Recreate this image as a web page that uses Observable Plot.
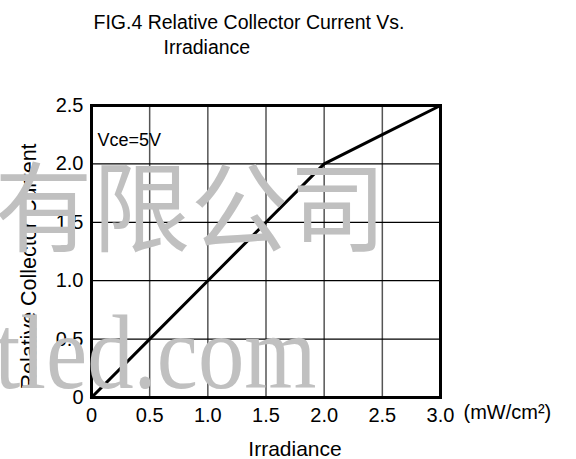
<!DOCTYPE html>
<html>
<head>
<meta charset="utf-8">
<script src="https://cdn.jsdelivr.net/npm/d3@7"></script>
<script src="https://cdn.jsdelivr.net/npm/@observablehq/plot@0.6"></script>
<style>
  html, body { margin: 0; padding: 0; background: #fff; }
</style>
</head>
<body>
<div id="chart"></div>
<script>
// Data
const irradiance = [0, 0.5, 1.0, 1.5, 2.0, 2.5, 3.0];
const relCurrent = [0, 0.5, 1.0, 1.5, 2.0, 2.25, 2.5];

const xTicks = [0, 0.5, 1.0, 1.5, 2.0, 2.5, 3.0];
const xTickLabels = ["0", "0.5", "1.0", "1.5", "2.0", "2.5", "3.0"];
const yTicks = [0, 0.5, 1.0, 1.5, 2.0, 2.5];
const yTickLabels = ["0", "0.5", "1.0", "1.5", "2.0", "2.5"];

const titleLine1 = ["FIG.4 Relative Collector Current Vs."];
const titleLine2 = ["Irradiance"];
const xTitle = ["Irradiance"];
const xUnit = ["(mW/cm\u00B2)"];
const yTitle = ["Relative Collector Current"];
const condition = ["Vce=5V"];
const watermarkCJK = ["有限公司"];
const watermarkLatin = ["tled.com"];

const data = irradiance.map((x, i) => ({x, y: relCurrent[i]}));

const font = "Liberation Sans, Arial, Helvetica, sans-serif";

const chart = Plot.plot({
  width: 576,
  height: 459,
  marginLeft: 91,
  marginRight: 136,
  marginTop: 105,
  marginBottom: 62,
  style: {fontFamily: font, fontSize: "20px", color: "#000", background: "#fff"},
  x: {domain: [0, 3], axis: null},
  y: {domain: [0, 2.5], axis: null},
  marks: [
    Plot.ruleX(xTicks, {stroke: "#555", strokeWidth: 1.5}),
    Plot.ruleY(yTicks, {stroke: "#000", strokeWidth: 1.3}),
    Plot.line(data, {x: "x", y: "y", stroke: "#000", strokeWidth: 3}),
    Plot.frame({stroke: "#000", strokeWidth: 3}),
    Plot.axisX(xTicks, {label: null, tickSize: 0, tickPadding: 10, fontSize: 20, tickFormat: (d, i) => xTickLabels[i], fill: "#000"}),
    Plot.axisY(yTicks, {label: null, tickSize: 0, tickPadding: 8, fontSize: 20, tickFormat: (d, i) => yTickLabels[i], fill: "#000"}),
    Plot.text(titleLine1, {text: d => d, frameAnchor: "top-left", textAnchor: "start", lineAnchor: "bottom", dx: 2, dy: -77, fontSize: 19.5, fill: "#000"}),
    Plot.text(titleLine2, {text: d => d, frameAnchor: "top-left", textAnchor: "start", lineAnchor: "bottom", dx: 72, dy: -52, fontSize: 19.5, fill: "#000"}),
    Plot.text(condition, {text: d => d, frameAnchor: "top-left", textAnchor: "start", lineAnchor: "bottom", dx: 6, dy: 40, fontSize: 18, fill: "#000"}),
    Plot.text(xTitle, {text: d => d, frameAnchor: "bottom", lineAnchor: "bottom", dx: 29, dy: 58, fontSize: 21, fill: "#000"}),
    Plot.text(xUnit, {text: d => d, frameAnchor: "bottom-right", textAnchor: "start", lineAnchor: "bottom", dx: 23, dy: 21, fontSize: 20, fill: "#000"}),
    Plot.text(yTitle, {text: d => d, frameAnchor: "left", textAnchor: "middle", rotate: -90, lineAnchor: "middle", dx: -62, dy: 15, fontSize: 21.5, fill: "#000"}),
    Plot.text(watermarkCJK, {text: d => d, frameAnchor: "top-left", textAnchor: "start", lineAnchor: "bottom", dx: -97, dy: 138, fontSize: 98, fontFamily: "Noto Sans CJK SC", fill: "#c0c0c0", className: "wm-cjk"}),
    Plot.text(watermarkLatin, {text: d => d, frameAnchor: "top-left", textAnchor: "start", lineAnchor: "bottom", dx: -97, dy: 282, fontSize: 105, fontFamily: "Liberation Serif, Times New Roman, serif", fill: "#c0c0c0", className: "wm-latin"})
  ]
});

document.getElementById("chart").appendChild(chart);
d3.select(chart).selectAll(".wm-latin text")
  .attr("textLength", 322)
  .attr("lengthAdjust", "spacingAndGlyphs");
</script>
</body>
</html>
